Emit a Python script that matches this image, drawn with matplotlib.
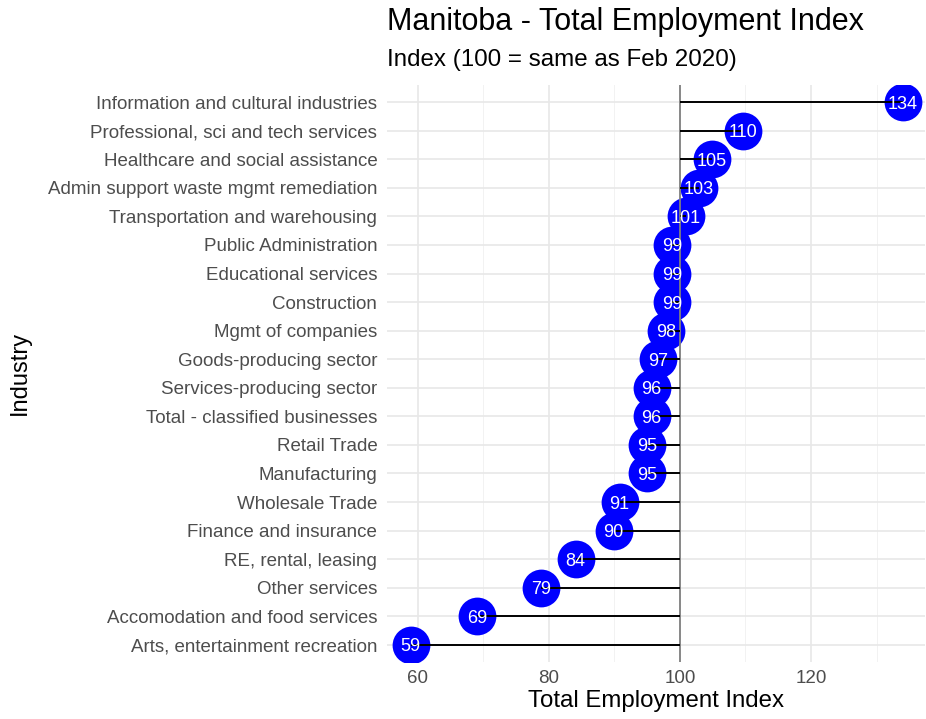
import matplotlib
matplotlib.use("Agg")
import matplotlib.pyplot as plt
from matplotlib.ticker import MultipleLocator

plt.rcParams['font.family'] = ['Liberation Sans', 'DejaVu Sans']

industries = [
    "Information and cultural industries",
    "Professional, sci and tech services",
    "Healthcare and social assistance",
    "Admin support waste mgmt remediation",
    "Transportation and warehousing",
    "Public Administration",
    "Educational services",
    "Construction",
    "Mgmt of companies",
    "Goods-producing sector",
    "Services-producing sector",
    "Total - classified businesses",
    "Retail Trade",
    "Manufacturing",
    "Wholesale Trade",
    "Finance and insurance",
    "RE, rental, leasing",
    "Other services",
    "Accomodation and food services",
    "Arts, entertainment recreation",
]
values = [134.0, 109.6, 104.9, 102.9, 100.9, 98.8, 98.8, 98.8, 97.9, 96.6,
          95.7, 95.7, 95.0, 95.0, 90.8, 89.9, 84.1, 78.8, 69.0, 58.9]
baseline = 100

fig = plt.figure(figsize=(9.26, 7.19), dpi=100)
ax = fig.add_axes([387/926, 1-662/719, (925-387)/926, (662-85)/719])

n = len(industries)
ypos = [n - 1 - i for i in range(n)]

ax.set_xlim(55.3, 137.4)
ax.set_ylim(-0.6, n - 1 + 0.6)

ax.xaxis.set_major_locator(MultipleLocator(20))
ax.xaxis.set_minor_locator(MultipleLocator(10))
ax.grid(which='major', axis='both', color='#E8E8E8', linewidth=1.2, zorder=0)
ax.grid(which='minor', axis='x', color='#F2F2F2', linewidth=0.7, zorder=0)
ax.set_axisbelow(True)

ax.scatter(values, ypos, s=740, color='#0000FF', zorder=3, linewidths=0)
ax.axvline(baseline, color='#808080', linewidth=1.3, zorder=4)
ax.hlines(ypos, baseline, values, color='black', linewidth=1.4, zorder=5)
for v, y in zip(values, ypos):
    ax.text(v, y, f"{round(v):d}", color='white', fontsize=13,
            ha='center', va='center_baseline', zorder=6)

ax.set_yticks(ypos)
ax.set_yticklabels(industries)
for s in ax.spines.values():
    s.set_visible(False)
ax.tick_params(axis='both', which='both', length=0, colors='#4D4D4D', labelsize=13.5)
ax.tick_params(axis='y', pad=7)
ax.tick_params(axis='x', pad=6)

ax.set_xlabel("Total Employment Index", fontsize=17.3, color='black', labelpad=2)
fig.text(20/926, 1-373/719, "Industry", fontsize=17, rotation=90,
         va='center', ha='center')

fig.text(387/926, 1-22/719, "Manitoba - Total Employment Index", fontsize=22,
         va='center', ha='left')
fig.text(387/926, 1-60/719, "Index (100 = same as Feb 2020)", fontsize=17.4,
         va='center', ha='left')

fig.savefig("out.png", dpi=100)
